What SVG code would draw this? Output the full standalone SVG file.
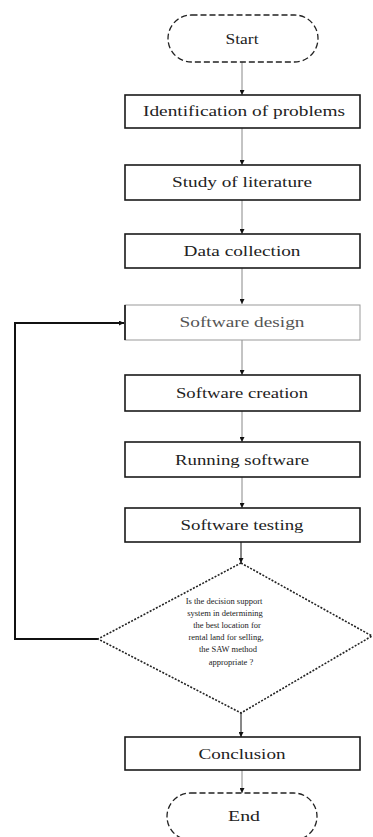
<svg xmlns="http://www.w3.org/2000/svg" width="373" height="837" viewBox="0 0 373 837">
<defs>
<marker id="ah" viewBox="0 0 10 10" refX="10" refY="5" markerWidth="5" markerHeight="5" orient="auto" markerUnits="userSpaceOnUse">
<path d="M0,0 L10,5 L0,10 z" fill="#111"/>
</marker>
</defs>
<style>
.box{fill:#fff;stroke:#1a1a1a;stroke-width:1.6}
.faint{fill:#fff;stroke:#999;stroke-width:1}
.term{fill:#fff;stroke:#222;stroke-width:1.3;stroke-dasharray:6 3}
.dia{fill:#fff;stroke:#222;stroke-width:1.6;stroke-dasharray:2 1.5}
.t{font-family:"Liberation Serif","Times New Roman",serif;font-size:14px;fill:#222;text-anchor:middle}
.s{font-family:"Liberation Serif","Times New Roman",serif;font-size:8.5px;fill:#222;text-anchor:middle}
.c{fill:none;stroke:#888;stroke-width:1}
.loop{fill:none;stroke:#111;stroke-width:2}
</style>
<rect width="373" height="837" fill="#fff"/>
<g id="connectors">
<line class="c" x1="242" y1="62" x2="242" y2="95" marker-end="url(#ah)"/>
<line class="c" x1="242" y1="128" x2="242" y2="165" marker-end="url(#ah)"/>
<line class="c" x1="242" y1="200" x2="242" y2="234" marker-end="url(#ah)"/>
<line class="c" x1="242" y1="268" x2="242" y2="304" marker-end="url(#ah)"/>
<line class="c" x1="242" y1="340" x2="242" y2="375" marker-end="url(#ah)"/>
<line class="c" x1="242" y1="411" x2="242" y2="442" marker-end="url(#ah)"/>
<line class="c" x1="242" y1="477" x2="242" y2="508" marker-end="url(#ah)"/>
<line class="c" x1="241" y1="542" x2="241" y2="563" marker-end="url(#ah)" style="stroke:#111"/>
<line class="c" x1="241" y1="713" x2="241" y2="737" marker-end="url(#ah)" style="stroke:#111"/>
<line class="c" x1="242" y1="770" x2="242" y2="793" marker-end="url(#ah)"/>
<polyline class="loop" points="98,639 15,639 15,323 124,323" marker-end="url(#ah)"/>
</g>
<g id="start">
<rect class="term" x="168" y="15" width="150" height="47" rx="23.5"/>
<text class="t" x="242" y="44" textLength="33" lengthAdjust="spacingAndGlyphs">Start</text>
</g>
<g id="identification">
<rect class="box" x="125" y="95" width="235" height="33"/>
<text class="t" x="244" y="116" textLength="202" lengthAdjust="spacingAndGlyphs">Identification of problems</text>
</g>
<g id="study">
<rect class="box" x="125" y="165" width="235" height="35"/>
<text class="t" x="242" y="187" textLength="140" lengthAdjust="spacingAndGlyphs">Study of literature</text>
</g>
<g id="data">
<rect class="box" x="125" y="234" width="235" height="34"/>
<text class="t" x="242" y="256" textLength="117" lengthAdjust="spacingAndGlyphs">Data collection</text>
</g>
<g id="design">
<rect class="faint" x="125" y="305" width="235" height="35"/>
<line x1="125" y1="305" x2="125" y2="340" stroke="#111" stroke-width="1.6"/>
<text class="t" x="242" y="327" textLength="125" lengthAdjust="spacingAndGlyphs" style="fill:#555">Software design</text>
</g>
<g id="creation">
<rect class="box" x="125" y="375" width="235" height="36"/>
<text class="t" x="242" y="398" textLength="132" lengthAdjust="spacingAndGlyphs">Software creation</text>
</g>
<g id="running">
<rect class="box" x="125" y="442" width="235" height="35"/>
<text class="t" x="242" y="465" textLength="134" lengthAdjust="spacingAndGlyphs">Running software</text>
</g>
<g id="testing">
<rect class="box" x="125" y="508" width="235" height="34"/>
<text class="t" x="242" y="530" textLength="123" lengthAdjust="spacingAndGlyphs">Software testing</text>
</g>
<g id="decision">
<polygon class="dia" points="241,563 372,636 241,713 98,639"/>
<text class="s" x="224" y="604">Is the decision support</text>
<text class="s" x="225" y="616">system in determining</text>
<text class="s" x="227" y="628">the best location for</text>
<text class="s" x="226" y="640">rental land for selling,</text>
<text class="s" x="228" y="652">the SAW method</text>
<text class="s" x="231" y="665">appropriate ?</text>
</g>
<g id="conclusion">
<rect class="box" x="125" y="737" width="235" height="33"/>
<text class="t" x="242" y="759" textLength="87" lengthAdjust="spacingAndGlyphs">Conclusion</text>
</g>
<g id="end">
<rect class="term" x="167" y="793" width="150" height="47" rx="23.5"/>
<text class="t" x="244" y="821" textLength="32" lengthAdjust="spacingAndGlyphs">End</text>
</g>
</svg>
